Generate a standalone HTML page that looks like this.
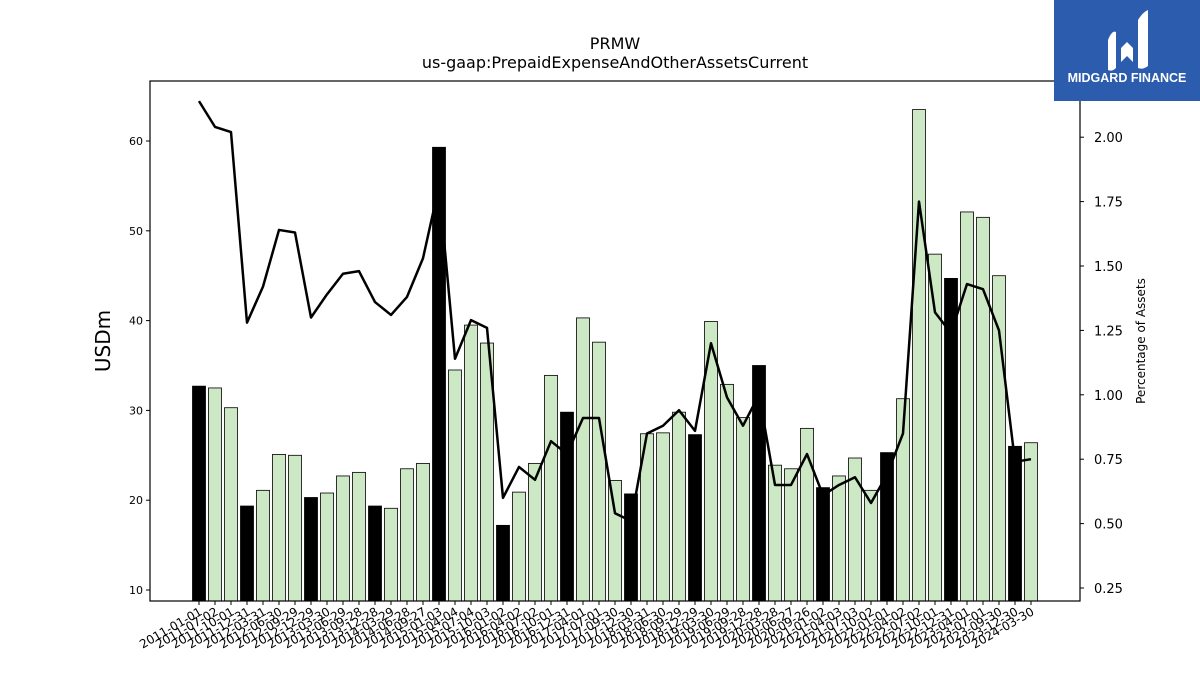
<!DOCTYPE html>
<html><head><meta charset="utf-8"><style>
body{margin:0;background:#fff;width:1200px;height:675px;overflow:hidden;font-family:"Liberation Sans","DejaVu Sans",sans-serif}
svg text{font-family:"DejaVu Sans","Liberation Sans",sans-serif}
</style></head><body>
<svg id="chart" width="1200" height="675" xmlns="http://www.w3.org/2000/svg">
<text x="615" y="49" font-size="16" text-anchor="middle">PRMW</text>
<text x="615" y="68" font-size="16" text-anchor="middle">us-gaap:PrepaidExpenseAndOtherAssetsCurrent</text>
<g id="bars"></g>
<g id="xticks"></g>
<g id="lticks"></g>
<g id="rticks"></g>
<polyline id="line" fill="none" stroke="#000" stroke-width="2.5" stroke-linejoin="round"/>
<rect x="150" y="81" width="930" height="520" fill="none" stroke="#000" stroke-width="1.2"/>
<text transform="translate(110,341) rotate(-90)" font-size="20" text-anchor="middle">USDm</text>
<text transform="translate(1145,341) rotate(-90)" font-size="12" text-anchor="middle">Percentage of Assets</text>
<g>
<rect x="1054" y="0" width="146" height="101" fill="#2b5cae"/>
<path d="M1108 40 Q1112 30 1116 32 L1116 68 Q1112 72 1108 70 Z M1121 48 L1127 42 L1133 48 L1133 62 L1127 56 L1121 62 Z M1138 20 Q1143 12 1148 10 L1148 66 Q1143 70 1138 68 Z" fill="#fff"/>
<text x="1127" y="82" font-size="12.5" font-weight="bold" fill="#fff" text-anchor="middle" style="font-family:'Liberation Sans',sans-serif">MIDGARD FINANCE</text>
</g>
</svg>
<script>
const dates=["2011-01-01","2011-07-02","2011-10-01","2011-12-31","2012-03-31","2012-06-30","2012-09-29","2012-12-29","2013-03-30","2013-06-29","2013-09-28","2013-12-28","2014-03-29","2014-06-28","2014-09-27","2015-01-03","2015-04-04","2015-07-04","2015-10-03","2016-01-02","2016-04-02","2016-07-02","2016-10-01","2016-12-31","2017-04-01","2017-07-01","2017-09-30","2017-12-30","2018-03-31","2018-06-30","2018-09-29","2018-12-29","2019-03-30","2019-06-29","2019-09-28","2019-12-28","2020-03-28","2020-06-27","2020-09-26","2021-01-02","2021-04-03","2021-07-03","2021-10-02","2022-01-01","2022-04-02","2022-07-02","2022-10-01","2022-12-31","2023-04-01","2023-07-01","2023-09-30","2023-12-30","2024-03-30"];
const usdm=[32.7,32.5,30.3,19.35,21.1,25.1,25.0,20.3,20.8,22.7,23.1,19.35,19.1,23.5,24.1,59.3,34.5,39.5,37.5,17.2,20.9,24.1,33.9,29.8,40.3,37.6,22.2,20.7,27.4,27.5,29.8,27.3,39.9,32.9,29.2,35.0,23.9,23.5,28.0,21.4,22.7,24.7,21.1,25.3,31.3,63.5,47.4,44.7,52.1,51.5,45.0,26.0,26.4];
const pctAssets=[2.14,2.04,2.02,1.28,1.42,1.64,1.63,1.30,1.39,1.47,1.48,1.36,1.31,1.38,1.53,1.81,1.14,1.29,1.26,0.60,0.72,0.67,0.82,0.77,0.91,0.91,0.54,0.51,0.85,0.88,0.94,0.86,1.20,0.99,0.88,1.00,0.65,0.65,0.77,0.61,0.65,0.68,0.58,0.69,0.85,1.75,1.32,1.24,1.43,1.41,1.25,0.74,0.75];
const yearEnd=[0,3,7,11,15,19,23,27,31,35,39,43,47,51];
const leftTicks=[10,20,30,40,50,60];
const rightTicks=[0.25,0.50,0.75,1.00,1.25,1.50,1.75,2.00];
const NS="http://www.w3.org/2000/svg";
const x=i=>199+i*(1031-199)/(dates.length-1);
const yL=v=>590-(v-10)*8.98;
const yR=v=>588-(v-0.25)*257.6;
function mk(t,a){const e=document.createElementNS(NS,t);for(const k in a)e.setAttribute(k,a[k]);return e;}
const bars=document.getElementById('bars');
usdm.forEach((v,i)=>{
 const r=mk('rect',{x:x(i)-6.5,y:yL(v),width:13,height:601-yL(v),fill:yearEnd.includes(i)?'#000':'#cce8c4',stroke:'#000','stroke-width':0.8});
 
 
 bars.appendChild(r);
});
const xt=document.getElementById('xticks');
dates.forEach((d,i)=>{
 const t=mk('line',{x1:x(i),x2:x(i),y1:601,y2:605,stroke:'#000'});
 
 
 xt.appendChild(t);
 const l=mk('text',{'font-size':12,'text-anchor':'end',transform:`translate(${x(i)+4},614) rotate(-30)`});
 
 
 l.textContent=d;xt.appendChild(l);
});
const lt=document.getElementById('lticks');
leftTicks.forEach(v=>{
 const t=mk('line',{x1:146,x2:150,y1:yL(v),y2:yL(v),stroke:'#000'});
 
 
 lt.appendChild(t);
 const l=mk('text',{x:143,y:yL(v)+4,'font-size':11,'text-anchor':'end'});
 
 
 l.textContent=v;lt.appendChild(l);
});
const rt=document.getElementById('rticks');
rightTicks.forEach(v=>{
 const t=mk('line',{x1:1080,x2:1084,y1:yR(v),y2:yR(v),stroke:'#000'});
 
 
 rt.appendChild(t);
 const l=mk('text',{x:1094,y:yR(v)+5,'font-size':13});
 
 
 l.textContent=v.toFixed(2);rt.appendChild(l);
});
document.getElementById('line').setAttribute('points',pctAssets.map((v,i)=>x(i)+','+yR(v)).join(' '));
</script>
</body></html>
